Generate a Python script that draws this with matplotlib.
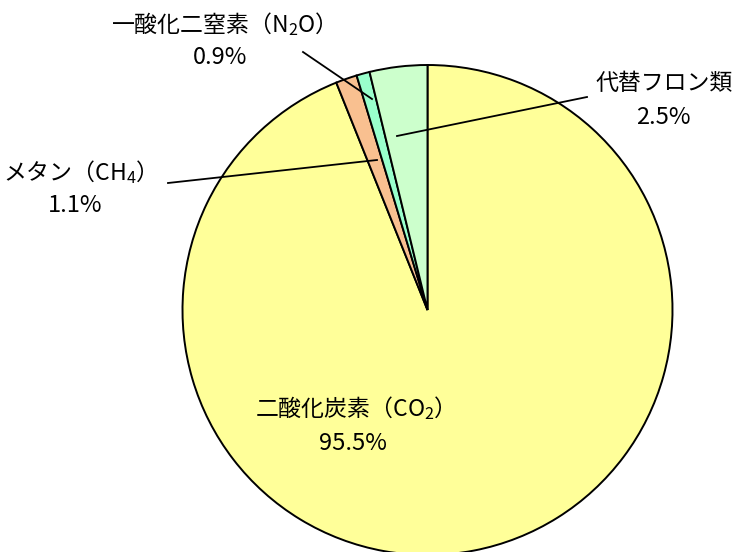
import matplotlib
matplotlib.use("Agg")
import matplotlib.pyplot as plt

plt.rcParams['font.family'] = ['Noto Sans CJK JP', 'DejaVu Sans']
plt.rcParams['mathtext.fontset'] = 'custom'
plt.rcParams['mathtext.rm'] = 'Noto Sans CJK JP'
plt.rcParams['mathtext.it'] = 'Noto Sans CJK JP'

# Data (wedge sizes as drawn, clockwise from top)
categories = ['二酸化炭素（CO$_2$）', 'メタン（CH$_4$）', '一酸化二窒素（N$_2$O）', '代替フロン類']
sizes = [93.9, 1.4, 0.87, 3.8]
pct_labels = ['95.5%', '1.1%', '0.9%', '2.5%']
colors = ['#FFFF99', '#F9C090', '#99FFCC', '#CCFFCC']

W, H = 740, 552
fig = plt.figure(figsize=(W / 100, H / 100), dpi=100)
ax = fig.add_axes([0, 0, 1, 1])

cx, cy, r = 427.5, H - 310, 245
ax.pie(sizes, colors=colors, startangle=90, counterclock=False,
       center=(cx, cy), radius=r,
       wedgeprops=dict(edgecolor='black', linewidth=1.4))
ax.set_xlim(0, W)
ax.set_ylim(0, H)
ax.set_aspect('equal')
ax.axis('off')

fs = 16.5
fs_pct = 17
# label positions (pixel coords from top): (x_name, y_name, x_pct, y_pct)
label_pos = [
    (349, 408, 353, 443),
    (74, 172, 75, 205),
    (217, 24, 220, 57),
    (664, 83, 663, 117),
]
for name, pct, (xn, yn, xp, yp) in zip(categories, pct_labels, label_pos):
    ax.text(xn, H - yn, name, ha='center', va='center', fontsize=fs)
    ax.text(xp, H - yp, pct, ha='center', va='center', fontsize=fs_pct)

# leader lines
leaders = [
    ((168, 183), (377, 160)),
    ((303, 52), (372, 99)),
    ((587, 97), (397, 136)),
]
for (x1, y1), (x2, y2) in leaders:
    ax.plot([x1, x2], [H - y1, H - y2], color='black', linewidth=1.3)

fig.savefig('out.png', dpi=100)
